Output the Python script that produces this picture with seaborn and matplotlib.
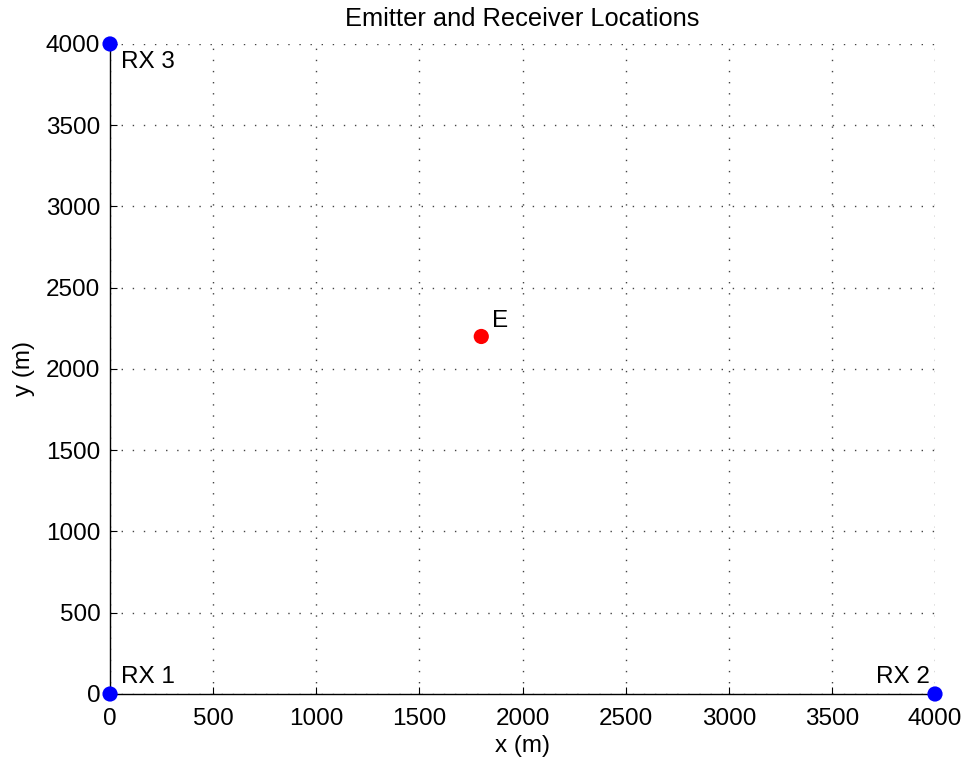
import matplotlib
matplotlib.use("Agg")
import matplotlib.pyplot as plt
import seaborn as sns
import pandas as pd

# Station positions (metres)
names = ["RX 1", "RX 2", "RX 3", "E"]
x_pos = [0, 4000, 0, 1800]
y_pos = [0, 0, 4000, 2200]
kinds = ["receiver", "receiver", "receiver", "emitter"]

ticks = [0, 500, 1000, 1500, 2000, 2500, 3000, 3500, 4000]

df = pd.DataFrame({"name": names, "x": x_pos, "y": y_pos, "kind": kinds})

sns.set_theme(style="white")
plt.rcParams["font.family"] = ["Liberation Sans", "DejaVu Sans"]
plt.rcParams["text.color"] = "black"
plt.rcParams["axes.labelcolor"] = "black"

FS = 17.5

fig = plt.figure(figsize=(9.67, 7.66), dpi=100)
ax = fig.add_axes([0.1138, 0.094, 0.8531, 0.8486])

sns.scatterplot(data=df, x="x", y="y", hue="kind",
                palette={"receiver": "#0000ff", "emitter": "#ff0000"},
                s=120, edgecolor="none", legend=False, ax=ax, zorder=5,
                clip_on=False)

# Text labels next to each station
offsets = {"RX 1": (8, 4, "left", "bottom"),
           "RX 2": (-4, 4, "right", "bottom"),
           "RX 3": (8, -5, "left", "top"),
           "E": (8, 3, "left", "bottom")}
for n, xv, yv in zip(names, x_pos, y_pos):
    dx, dy, ha, va = offsets[n]
    ax.annotate(n, (xv, yv), xytext=(dx, dy), textcoords="offset points",
                ha=ha, va=va, fontsize=FS, color="black")

ax.set_xlim(0, 4000)
ax.set_ylim(0, 4000)
ax.set_xticks(ticks)
ax.set_yticks(ticks)
ax.tick_params(direction="in", length=5, width=0.8, labelsize=FS,
               colors="black", bottom=True, left=True, pad=7)
ax.tick_params(axis="x", pad=10)
ax.grid(True, linestyle=(0, (1, 7)), color="#444444", linewidth=1.0)

for side in ["top", "right"]:
    ax.spines[side].set_visible(False)
for side in ["left", "bottom"]:
    ax.spines[side].set_color("black")
    ax.spines[side].set_linewidth(1.0)

ax.set_xlabel("x (m)", fontsize=FS, labelpad=4)
ax.set_ylabel("y (m)", fontsize=FS, labelpad=8)
ax.set_title("Emitter and Receiver Locations", fontsize=18.3, pad=13,
             color="black")

fig.savefig("out.png", dpi=100)
